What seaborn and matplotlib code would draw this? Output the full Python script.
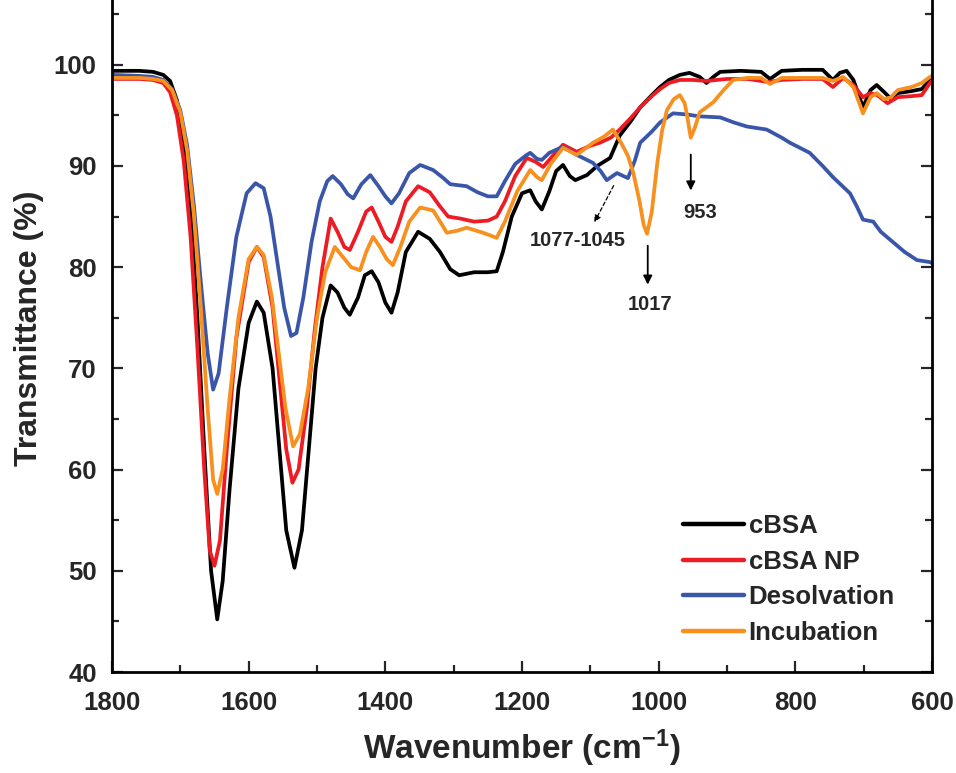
import matplotlib
matplotlib.use("Agg")
import matplotlib.pyplot as plt
import pandas as pd
import seaborn as sns
from matplotlib.ticker import MultipleLocator

# FTIR spectra, transmittance (%) versus wavenumber (cm-1)
wn_cbsa = [1800, 1760, 1740, 1725, 1715, 1705, 1695, 1685, 1675, 1665, 1655, 1646, 1638, 1628,
           1615, 1600, 1588, 1578, 1565, 1555, 1545, 1533, 1522, 1512, 1502, 1492, 1480, 1470,
           1460, 1452, 1440, 1430, 1420, 1410, 1400, 1391, 1382, 1370, 1352, 1335, 1320, 1305,
           1292, 1270, 1250, 1237, 1228, 1215, 1200, 1188, 1180, 1171, 1160, 1150, 1140, 1130,
           1122, 1105, 1090, 1071, 1057, 1040, 1027, 1010, 998, 985, 969, 955, 940, 930, 920,
           910, 880, 850, 837, 820, 790, 760, 745, 735, 725, 715, 701, 690, 681, 670, 661, 650,
           630, 615, 603, 600]
t_cbsa = [99.4, 99.4, 99.3, 99.0, 98.4, 96.5, 92.5, 86.0, 75.0, 62.0, 50.0, 45.2, 49.0, 58.0,
          68.0, 74.5, 76.6, 75.5, 70.0, 62.0, 54.0, 50.3, 54.0, 62.0, 70.0, 75.0, 78.2, 77.5,
          76.0, 75.3, 77.0, 79.2, 79.6, 78.5, 76.5, 75.5, 77.5, 81.5, 83.5, 82.8, 81.5, 79.8,
          79.2, 79.5, 79.5, 79.6, 81.5, 85.0, 87.3, 87.6, 86.5, 85.7, 87.5, 89.5, 90.1, 89.0,
          88.6, 89.1, 90.0, 90.8, 93.0, 94.5, 95.8, 97.0, 97.8, 98.5, 99.0, 99.2, 98.8, 98.2, 98.8,
          99.3, 99.4, 99.3, 98.6, 99.4, 99.5, 99.5, 98.5, 99.2, 99.4, 98.5, 95.8, 97.5, 98.0, 97.3,
          96.7, 97.2, 97.4, 97.6, 98.5, 98.6]

wn_np = [1800, 1760, 1740, 1725, 1715, 1705, 1695, 1685, 1675, 1665, 1657, 1650, 1642, 1632,
         1618, 1600, 1588, 1578, 1565, 1555, 1545, 1536, 1527, 1515, 1503, 1492, 1480, 1470,
         1460, 1452, 1440, 1428, 1420, 1410, 1400, 1391, 1382, 1370, 1352, 1335, 1320, 1308,
         1290, 1270, 1250, 1237, 1225, 1210, 1193, 1180, 1169, 1155, 1140, 1120, 1100, 1086,
         1070, 1057, 1040, 1027, 1010, 998, 985, 969, 950, 930, 900, 870, 840, 820, 790, 760,
         745, 730, 715, 701, 690, 680, 665, 650, 630, 615, 603, 600]
t_np = [98.6, 98.6, 98.5, 98.2, 97.3, 95.0, 90.5, 83.0, 72.0, 60.0, 52.0, 50.5, 53.0, 62.0,
        73.0, 80.5, 82.0, 81.0, 76.0, 69.0, 62.0, 58.7, 60.0, 66.0, 74.0, 80.0, 84.8, 83.5,
        82.0, 81.7, 83.5, 85.5, 85.9, 84.5, 83.0, 82.5, 84.0, 86.5, 88.0, 87.4, 86.0, 85.0,
        84.8, 84.5, 84.6, 85.0, 86.5, 89.0, 90.8, 90.4, 89.9, 91.0, 92.1, 91.4, 92.0, 92.3,
        92.8, 93.6, 94.8, 95.8, 96.9, 97.6, 98.2, 98.5, 98.5, 98.4, 98.6, 98.6, 98.3, 98.5, 98.6,
        98.6, 97.8, 98.7, 98.0, 96.8, 97.2, 97.0, 96.2, 96.8, 96.9, 97.0, 98.2, 98.4]

wn_desolv = [1800, 1760, 1740, 1725, 1712, 1700, 1690, 1680, 1670, 1660, 1652, 1644, 1632, 1618,
             1603, 1590, 1578, 1568, 1558, 1548, 1538, 1530, 1520, 1508, 1496, 1485, 1477, 1465,
             1455, 1447, 1435, 1422, 1410, 1400, 1391, 1380, 1365, 1349, 1330, 1315, 1305, 1281,
             1265, 1250, 1237, 1225, 1210, 1195, 1188, 1178, 1171, 1160, 1140, 1120, 1096, 1085,
             1076, 1061, 1045, 1035, 1027, 1010, 998, 979, 960, 940, 910, 890, 871, 842, 820, 808,
             779, 760, 745, 720, 710, 701, 686, 675, 661, 640, 622, 603, 600]
t_desolv = [99.0, 98.9, 98.8, 98.5, 97.6, 95.5, 92.0, 86.0, 78.5, 71.5, 67.9, 69.5, 76.0, 83.0,
            87.3, 88.3, 87.8, 85.0, 80.5, 76.0, 73.2, 73.5, 77.0, 82.5, 86.5, 88.5, 89.0, 88.2,
            87.2, 86.8, 88.2, 89.1, 88.0, 87.0, 86.3, 87.3, 89.3, 90.1, 89.6, 88.8, 88.2, 88.0,
            87.4, 87.0, 87.0, 88.5, 90.2, 91.0, 91.3, 90.7, 90.6, 91.3, 91.9, 91.1, 90.3, 89.5,
            88.6, 89.3, 88.8, 90.5, 92.3, 93.4, 94.3, 95.2, 95.1, 94.9, 94.8, 94.3, 93.9, 93.6,
            92.8, 92.3, 91.3, 90.0, 88.9, 87.3, 86.0, 84.7, 84.5, 83.5, 82.7, 81.5, 80.7, 80.5,
            80.4]

wn_incub = [1800, 1760, 1740, 1725, 1712, 1700, 1690, 1680, 1670, 1660, 1652, 1646, 1638, 1628,
            1615, 1600, 1588, 1578, 1566, 1556, 1546, 1535, 1525, 1513, 1500, 1488, 1474, 1462,
            1450, 1437, 1428, 1418, 1408, 1398, 1389, 1378, 1365, 1349, 1330, 1318, 1310, 1295,
            1281, 1257, 1237, 1225, 1207, 1188, 1178, 1171, 1158, 1140, 1120, 1096, 1080, 1067,
            1055, 1045, 1037, 1028, 1022, 1017, 1010, 1002, 995, 988, 978, 969, 962, 959, 953,
            947, 940, 930, 920, 905, 891, 870, 850, 837, 820, 790, 760, 745, 730, 715, 701, 690,
            681, 670, 660, 650, 630, 615, 603, 600]
t_incub = [98.7, 98.7, 98.6, 98.4, 97.5, 95.3, 91.5, 85.0, 76.0, 66.0, 59.0, 57.6, 60.0, 67.0,
           75.0, 80.8, 82.0, 81.2, 77.0, 71.5, 66.0, 62.3, 63.5, 68.0, 75.0, 79.5, 82.0, 81.0,
           80.0, 79.7, 81.5, 83.0, 82.0, 80.8, 80.2, 82.0, 84.5, 85.9, 85.6, 84.3, 83.4, 83.6,
           83.9, 83.4, 82.9, 84.5, 87.5, 89.6, 88.9, 88.6, 90.2, 91.8, 91.1, 92.3, 92.9, 93.6,
           92.3, 91.0, 89.3, 86.5, 84.2, 83.3, 85.5, 90.3, 93.5, 95.5, 96.6, 97.0, 96.2, 95.2,
           92.8, 93.8, 95.3, 95.8, 96.3, 97.5, 98.5, 98.7, 98.7, 98.1, 98.7, 98.7, 98.7, 98.4,
           98.8, 97.8, 95.2, 96.8, 97.2, 96.6, 96.8, 97.5, 97.8, 98.2, 98.8, 98.9]

samples = ["cBSA", "cBSA NP", "Desolvation", "Incubation"]
colors = ["#000000", "#ED1C24", "#3A56A8", "#F7901E"]
series = [(wn_cbsa, t_cbsa), (wn_np, t_np), (wn_desolv, t_desolv), (wn_incub, t_incub)]

df = pd.concat(
    [pd.DataFrame({"Wavenumber": w, "Transmittance": t, "Sample": s})
     for s, (w, t) in zip(samples, series)],
    ignore_index=True,
)

sns.set_theme(style="ticks")
plt.rcParams["font.family"] = ["Liberation Sans", "DejaVu Sans"]
plt.rcParams["mathtext.fontset"] = "custom"
plt.rcParams["mathtext.rm"] = "Liberation Sans:bold"
plt.rcParams["mathtext.bf"] = "Liberation Sans:bold"
plt.rcParams["mathtext.default"] = "bf"

fig = plt.figure(figsize=(9.56, 7.73), dpi=100)
ax = fig.add_axes([112 / 956, 101 / 773, 820 / 956, 672 / 773])

sns.lineplot(data=df, x="Wavenumber", y="Transmittance", hue="Sample",
             hue_order=samples, palette=colors, sort=False, estimator=None,
             linewidth=2.7, ax=ax)

ax.set_xlim(1800, 600)
ax.set_ylim(40, 106.4)
ax.xaxis.set_major_locator(MultipleLocator(200))
ax.xaxis.set_minor_locator(MultipleLocator(100))
ax.yaxis.set_major_locator(MultipleLocator(10))
ax.yaxis.set_minor_locator(MultipleLocator(5))
ax.set_yticks(range(40, 101, 10))

ax.tick_params(which="both", direction="in", width=1.6, right=True, top=False,
               labelsize=18.5)
ax.tick_params(which="major", length=8)
ax.tick_params(which="minor", length=5)
ax.tick_params(axis="y", pad=11)
ax.tick_params(axis="x", pad=14)
for lab in ax.get_xticklabels() + ax.get_yticklabels():
    lab.set_fontweight("bold")

for side in ("left", "right", "bottom"):
    ax.spines[side].set_linewidth(2)
    ax.spines[side].set_color("black")
ax.spines["top"].set_visible(False)

ax.set_xlabel(r"Wavenumber (cm$^{-1}$)", fontsize=24, fontweight="bold", labelpad=9)
ax.set_ylabel("Transmittance (%)", fontsize=23, fontweight="bold", labelpad=7)
ax.yaxis.set_label_coords(-0.083, 0.512)

leg = ax.legend(frameon=False, loc="upper left", bbox_to_anchor=(0.684, 0.25),
                prop={"weight": "bold", "size": 18.5}, handlelength=2.35,
                handletextpad=0.2, labelspacing=0.45, borderaxespad=0)
for line in leg.get_lines():
    line.set_linewidth(3.2)

# band assignments
ax.annotate("", xy=(1096, 84.2), xytext=(1064, 88.3),
            arrowprops=dict(arrowstyle="-|>", color="black", lw=0.9, linestyle=(0, (3, 2)),
                            mutation_scale=10))
ax.text(1118, 82.6, "1077-1045", ha="center", va="center", fontsize=14.5, fontweight="bold")

ax.annotate("", xy=(1016, 78.0), xytext=(1016, 82.4),
            arrowprops=dict(arrowstyle="-|>", color="black", lw=1.3, mutation_scale=13))
ax.text(1013, 76.3, "1017", ha="center", va="center", fontsize=14.5, fontweight="bold")

ax.annotate("", xy=(953, 87.3), xytext=(953, 91.4),
            arrowprops=dict(arrowstyle="-|>", color="black", lw=1.3, mutation_scale=13))
ax.text(940, 85.4, "953", ha="center", va="center", fontsize=14.5, fontweight="bold")

fig.savefig("out.png", dpi=100)
